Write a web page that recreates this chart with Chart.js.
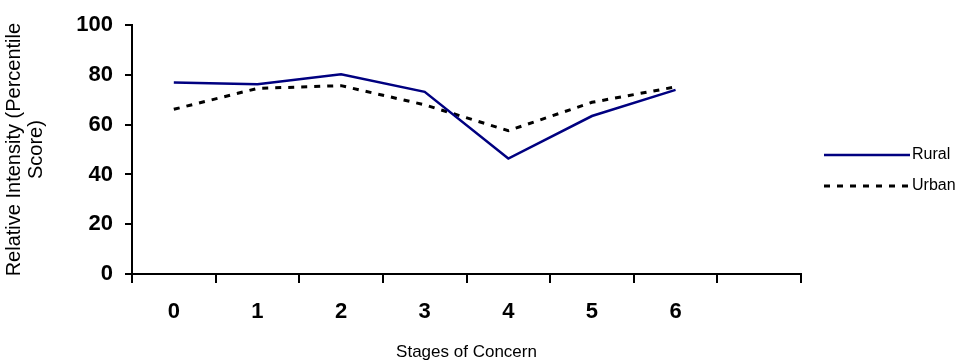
<!DOCTYPE html>
<html><head><meta charset="utf-8">
<script src="https://cdn.jsdelivr.net/npm/chart.js@4/dist/chart.umd.min.js"></script>
<style>html,body{margin:0;padding:0;background:#fff;overflow:hidden}#wrap{width:977px;height:364px}</style>
</head><body><div id="wrap"><canvas id="c" width="977" height="364"></canvas></div>
<script>
const stages = ['0', '1', '2', '3', '4', '5', '6', ''];
const rural = [77.0, 76.3, 80.3, 73.2, 46.4, 63.5, 74.0, null];
const urban = [66.2, 74.6, 75.7, 68.0, 57.6, 69.0, 75.2, null];
const seriesNames = ['Rural', 'Urban'];
const xTitle = 'Stages of Concern';
const yTitle = ['Relative Intensity (Percentile', 'Score)'];

const FONT = "'Liberation Sans', Arial, sans-serif";

const legendPlugin = {
  id: 'sideLegend',
  afterDraw(chart) {
    const ctx = chart.ctx;
    const ys = [155, 186];
    chart.data.datasets.forEach((ds, i) => {
      const y = ys[i];
      ctx.save();
      ctx.strokeStyle = ds.borderColor;
      ctx.lineWidth = ds.borderWidth;
      ctx.setLineDash(ds.borderDash || []);
      ctx.beginPath();
      ctx.moveTo(824, y);
      ctx.lineTo(910, y);
      ctx.stroke();
      ctx.setLineDash([]);
      ctx.fillStyle = '#000';
      ctx.font = "16px " + FONT;
      ctx.textBaseline = 'middle';
      ctx.textAlign = 'left';
      ctx.fillText(ds.label, 912, y);
      ctx.restore();
    });
  }
};

new Chart(document.getElementById('c'), {
  type: 'line',
  data: {
    labels: stages,
    datasets: [
      { label: seriesNames[0], data: rural, borderColor: '#000080', borderWidth: 2.5, pointRadius: 0, tension: 0, fill: false },
      { label: seriesNames[1], data: urban, borderColor: '#000000', borderWidth: 3, borderDash: [6, 7], pointRadius: 0, tension: 0, fill: false }
    ]
  },
  options: {
    responsive: false,
    animation: false,
    devicePixelRatio: 1,
    layout: { padding: { left: 0, top: 21, right: 176, bottom: 0 } },
    plugins: { legend: { display: false }, tooltip: { enabled: false } },
    scales: {
      x: {
        type: 'category',
        offset: true,
        afterFit(s) { s.height = 90; },
        grid: { offset: true, drawOnChartArea: false, drawTicks: true, tickLength: 9, color: '#000', lineWidth: 2 },
        border: { display: true, color: '#000', width: 2 },
        ticks: { color: '#000', font: { family: FONT, size: 22, weight: 'bold' }, padding: 16, maxRotation: 0, autoSkip: false },
        title: { display: true, text: xTitle, color: '#000', font: { family: FONT, size: 17, lineHeight: 1 }, padding: { top: 0, bottom: 3 } }
      },
      y: {
        min: 0, max: 100,
        afterFit(s) { s.width = 132; },
        grid: { drawOnChartArea: false, drawTicks: true, tickLength: 7, color: '#000', lineWidth: 2 },
        border: { display: true, color: '#000', width: 2 },
        ticks: { stepSize: 20, color: '#000', font: { family: FONT, size: 22, weight: 'bold' }, padding: 12 },
        title: { display: true, text: yTitle, color: '#000', font: { family: FONT, size: 20, lineHeight: 1.1 }, padding: { top: 3, bottom: 0 } }
      }
    }
  },
  plugins: [legendPlugin]
});
</script>
</body></html>
